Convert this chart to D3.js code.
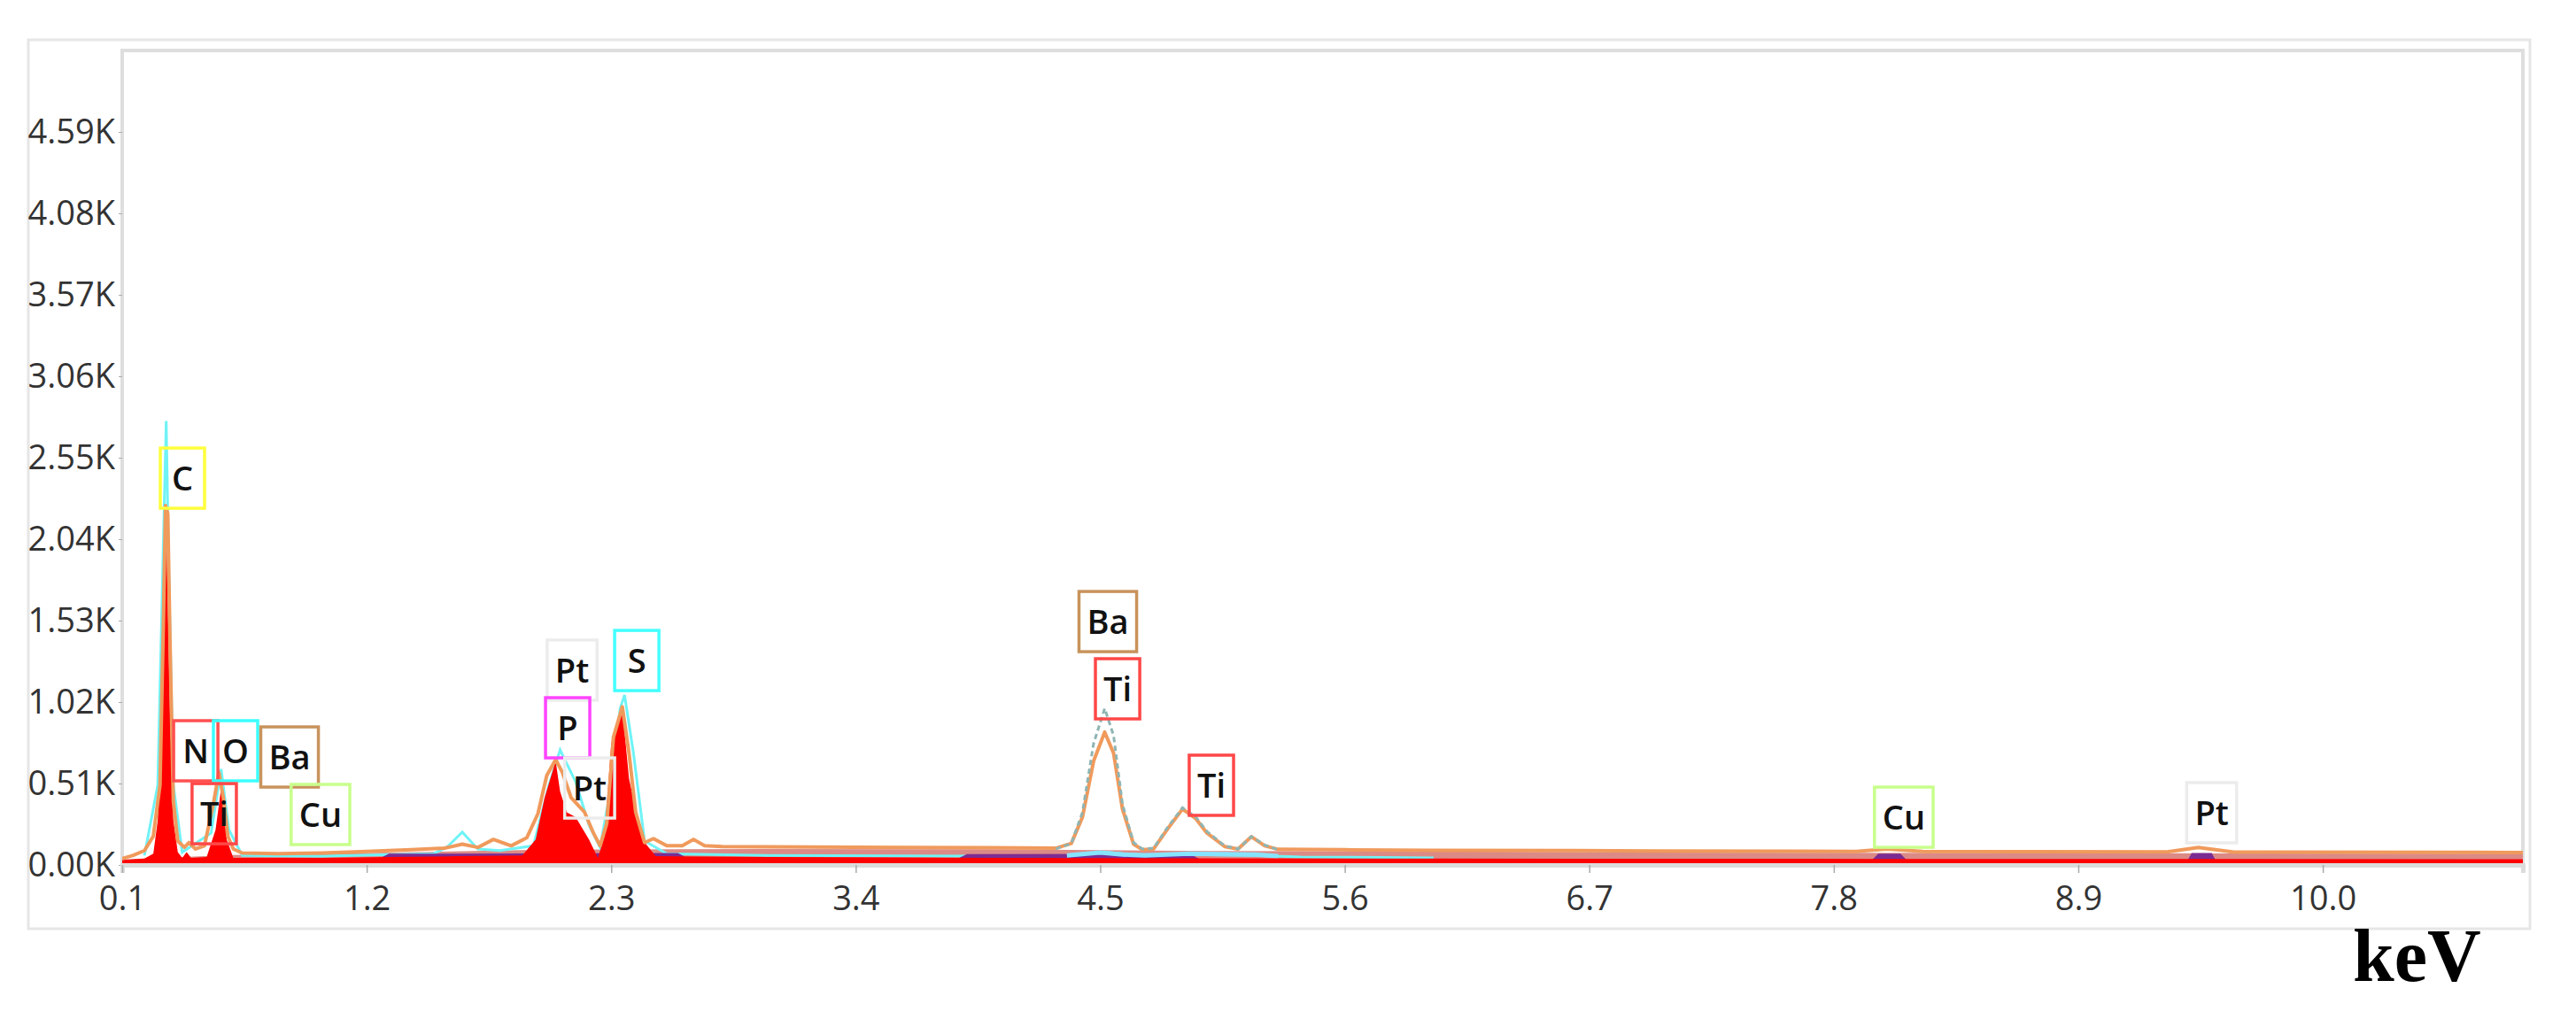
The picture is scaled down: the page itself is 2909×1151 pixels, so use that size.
<!DOCTYPE html>
<html>
<head>
<meta charset="utf-8">
<script src="https://cdn.jsdelivr.net/npm/d3@7/dist/d3.min.js"></script>
<style>
    body { margin: 0; background: #fff; }
    svg { display: block; }
    .axis text { font-family: 'Open Sans', sans-serif; font-size: 38px; fill: #333; }
    .peak-label { font-family: 'Open Sans', sans-serif; font-size: 38px; font-weight: 600; fill: #111; }
</style>
</head>
<body>
<svg></svg>
<script>
// EDS spectrum, counts vs keV

const X_TICKS = [0.1, 1.2, 2.3, 3.4, 4.5, 5.6, 6.7, 7.8, 8.9, 10.0],
    Y_TICKS = [0, 510, 1020, 1530, 2040, 2550, 3060, 3570, 4080, 4590];

// overall spectrum outline (orange)
const totalKeV = [0.10, 0.15, 0.20, 0.24, 0.27, 0.285, 0.295, 0.305, 0.315, 0.33, 0.35, 0.38, 0.40, 0.43, 0.47, 0.51, 0.535, 0.555, 0.575, 0.60, 0.64,
    0.8, 1.0, 1.2, 1.4, 1.55, 1.63, 1.7, 1.77, 1.85, 1.92, 1.97, 2.01, 2.05, 2.08, 2.12, 2.18, 2.22, 2.25, 2.28, 2.31, 2.35, 2.38, 2.41, 2.45,
    2.49, 2.55, 2.62, 2.67, 2.72, 2.8, 3.2, 3.6, 4.0, 4.3, 4.37, 4.42, 4.47, 4.52, 4.56, 4.60, 4.65, 4.69, 4.74, 4.8, 4.87, 4.93, 4.98,
    5.06, 5.12, 5.18, 5.24, 5.3, 5.6, 6.0, 7.0, 7.9, 8.04, 8.2, 9.3, 9.44, 9.6, 10.9];
const totalCounts = [40, 60, 90, 180, 500, 1500, 2250, 2200, 1400, 400, 150, 110, 140, 100, 120, 380, 580, 420, 180, 100, 75,
    70, 75, 85, 95, 105, 130, 110, 160, 120, 170, 320, 560, 660, 580, 420, 330, 200, 120, 260, 800, 990, 700, 330, 140,
    165, 120, 120, 160, 120, 115, 112, 110, 108, 105, 135, 300, 650, 832, 700, 350, 130, 95, 100, 220, 350, 290, 200,
    115, 100, 177, 120, 98, 95, 92, 88, 85, 100, 85, 82, 110, 80, 78];

// second detector trace around Ba / Ti (grey-teal)
const tealKeV = [4.30, 4.37, 4.42, 4.47, 4.52, 4.56, 4.60, 4.65, 4.69, 4.74, 4.8, 4.87, 4.93, 4.98, 5.06, 5.12, 5.18, 5.24, 5.3];
const tealCounts = [100, 135, 330, 760, 980, 810, 380, 140, 100, 105, 230, 358, 300, 210, 120, 100, 178, 125, 95];

// light element trace (cyan)
const cyanKeV = [0.20, 0.26, 0.285, 0.298, 0.31, 0.33, 0.37, 0.50, 0.545, 0.58, 0.64, 1.0, 1.5, 1.56, 1.63, 1.70, 1.8, 1.95, 2.02, 2.07,
    2.14, 2.20, 2.25, 2.30, 2.34, 2.36, 2.40, 2.45, 2.55, 3.0, 4.0, 4.4, 4.52, 4.65, 4.9, 5.2, 5.4, 6.0];
const cyanCounts = [60, 500, 2000, 2780, 1800, 500, 80, 200, 600, 220, 60, 55, 70, 110, 205, 100, 90, 120, 500, 720,
    520, 250, 110, 500, 980, 1064, 700, 150, 70, 60, 55, 60, 80, 65, 65, 60, 50, 45];

// filled spectrum (red)
const redKeV = [0.10, 0.20, 0.24, 0.26, 0.28, 0.29, 0.297, 0.305, 0.315, 0.33, 0.35, 0.37, 0.39, 0.41, 0.48, 0.52, 0.545, 0.555, 0.57, 0.60,
    0.7, 1.0, 1.3, 1.6, 1.9, 1.96, 2.0, 2.05, 2.07, 2.1, 2.14, 2.2, 2.24, 2.27, 2.30, 2.35, 2.38, 2.44, 2.5, 3.0, 4.0, 5.0, 6.0, 8.0, 10.9];
const redCounts = [30, 40, 70, 280, 950, 1550, 2200, 1650, 950, 280, 80, 45, 80, 45, 50, 220, 480, 450, 160, 45,
    45, 45, 50, 55, 60, 160, 420, 650, 460, 330, 300, 160, 45, 180, 760, 980, 540, 160, 55, 50, 45, 42, 40, 38, 36];

// baseline bands
const roseKeV = [0.1, 0.6, 1.2, 2.0, 3.0, 4.0, 5.0, 6.0, 7.0, 10.9];
const roseCounts = [35, 62, 75, 95, 100, 98, 88, 85, 78, 70];
const purpleKeV = [0.1, 1.2, 1.3, 2.6, 2.7, 3.8, 3.9, 4.9, 5.0, 7.95, 8.0, 8.1, 8.15, 9.38, 9.41, 9.5, 9.53, 10.9];
const purpleCounts = [0, 0, 70, 75, 0, 0, 68, 70, 0, 0, 70, 70, 0, 0, 75, 75, 0, 0];
const blueKeV = [4.35, 4.5, 4.6, 4.7, 4.9, 5.2, 5.3];
const blueCounts = [60, 78, 65, 60, 70, 65, 55];

// element markers
const labelNames = ['C', 'N', 'O', 'Ti', 'Ba', 'Cu', 'Pt', 'P', 'Pt', 'S', 'Ba', 'Ti', 'Ti', 'Cu', 'Pt'];
const labelKeV = [0.371, 0.431, 0.61, 0.514, 0.853, 0.992, 2.124, 2.104, 2.203, 2.415, 4.534, 4.578, 5.0, 8.115, 9.50];
const labelCounts = [2422, 715, 715, 321, 676, 316, 1220, 859, 482, 1280, 1524, 1103, 499, 299, 327];

const ELEMENT_COLOR = {
    C: '#ffff3c', N: '#ff5050', O: '#3cffff', Ti: '#ff4848', Ba: '#c8935c',
    Cu: '#c8ff8c', Pt: '#ececec', P: '#ff44ff', S: '#44ffff'
};

var W = 2909, H = 1151,
    plot = {left: 138, right: 2849, top: 57, bottom: 977};

function pairs(xs, ys) {
    return xs.map(function(k, i) { return {keV: k, n: ys[i]}; });
}

document.addEventListener('DOMContentLoaded', function() {

    var svg = d3.select('svg')
        .attr('width', W)
        .attr('height', H);

    var x = d3.scaleLinear()
        .domain([0.1, 10.9])
        .range([plot.left, plot.right]);

    var y = d3.scaleLinear()
        .domain([0, 5100])
        .range([plot.bottom, plot.top]);

    // frames
    svg.append('rect')
        .attr('x', 32).attr('y', 45)
        .attr('width', 2857 - 32).attr('height', 1049 - 45)
        .attr('fill', 'none')
        .attr('stroke', '#e6e6e6')
        .attr('stroke-width', 3);

    svg.append('path')
        .attr('d', 'M' + plot.left + ',' + plot.bottom + 'V' + plot.top + 'H' + plot.right + 'V' + plot.bottom)
        .attr('fill', 'none')
        .attr('stroke', '#dedede')
        .attr('stroke-width', 4);

    svg.append('defs').append('clipPath')
        .attr('id', 'clip')
        .append('rect')
        .attr('x', plot.left).attr('y', plot.top)
        .attr('width', plot.right - plot.left).attr('height', plot.bottom - plot.top);

    var chart = svg.append('g').attr('clip-path', 'url(#clip)');

    var area = d3.area()
        .x(function(d) { return x(d.keV); })
        .y0(y(0))
        .y1(function(d) { return y(d.n); });

    var line = d3.line()
        .x(function(d) { return x(d.keV); })
        .y(function(d) { return y(d.n); });

    chart.append('path')
        .attr('d', area(pairs(roseKeV, roseCounts)))
        .attr('fill', '#dc8a86');

    chart.append('path')
        .attr('d', line(pairs(cyanKeV, cyanCounts)))
        .attr('fill', 'none')
        .attr('stroke', '#6ff3f6')
        .attr('stroke-width', 3);

    chart.append('path')
        .attr('d', area(pairs(purpleKeV, purpleCounts)))
        .attr('fill', '#7b2c93');

    chart.append('path')
        .attr('d', line(pairs(blueKeV, blueCounts)))
        .attr('fill', 'none')
        .attr('stroke', '#86e4ff')
        .attr('stroke-width', 5);

    chart.append('path')
        .attr('d', area(pairs(redKeV, redCounts)))
        .attr('fill', '#ff0000');

    chart.append('path')
        .attr('d', line(pairs(totalKeV, totalCounts)))
        .attr('fill', 'none')
        .attr('stroke', '#f09a5c')
        .attr('stroke-width', 4)
        .attr('stroke-linejoin', 'round');

    chart.append('path')
        .attr('d', line(pairs(tealKeV, tealCounts)))
        .attr('fill', 'none')
        .attr('stroke', '#8fb5b3')
        .attr('stroke-width', 3)
        .attr('stroke-dasharray', '6,4');

    // axes
    var yAxis = svg.append('g')
        .attr('class', 'axis')
        .attr('transform', 'translate(' + plot.left + ',0)')
        .call(d3.axisLeft(y)
            .tickValues(Y_TICKS)
            .tickSize(4)
            .tickPadding(4)
            .tickFormat(function(d) { return (d / 1000).toFixed(2) + 'K'; }));
    yAxis.select('.domain').remove();
    yAxis.selectAll('.tick line').attr('stroke', '#aaa');

    var xAxis = svg.append('g')
        .attr('class', 'axis')
        .attr('transform', 'translate(0,' + plot.bottom + ')')
        .call(d3.axisBottom(x)
            .tickValues(X_TICKS)
            .tickSize(9)
            .tickPadding(15)
            .tickFormat(d3.format('.1f')));
    xAxis.select('.domain')
        .attr('stroke', '#dcdcdc')
        .attr('stroke-width', 5);
    xAxis.selectAll('.tick line').attr('stroke', '#aaa').attr('stroke-width', 1.5);

    // element labels
    var labels = svg.append('g').selectAll('g')
        .data(labelNames.map(function(name, i) {
            return {name: name, keV: labelKeV[i], n: labelCounts[i]};
        }))
        .enter().append('g')
        .attr('transform', function(d) { return 'translate(' + x(d.keV) + ',' + y(d.n) + ')'; });

    labels.append('text')
        .attr('class', 'peak-label')
        .attr('text-anchor', 'middle')
        .attr('dy', '0.36em')
        .text(function(d) { return d.name; });

    labels.insert('rect', 'text')
        .each(function(d) {
            var bb = this.parentNode.querySelector('text').getBBox(),
                w = Math.max(bb.width + 18, 50),
                h = 68;
            d3.select(this)
                .attr('x', -w / 2).attr('y', -h / 2)
                .attr('width', w).attr('height', h);
        })
        .attr('fill', 'none')
        .attr('stroke', function(d) { return ELEMENT_COLOR[d.name]; })
        .attr('stroke-width', 3.5);

    svg.append('text')
        .attr('x', 2657)
        .attr('y', 1108)
        .style('font-family', "'Liberation Serif', 'Times New Roman', serif")
        .style('font-weight', 'bold')
        .style('font-size', '84px')
        .text('keV');
});
</script>
</body>
</html>
